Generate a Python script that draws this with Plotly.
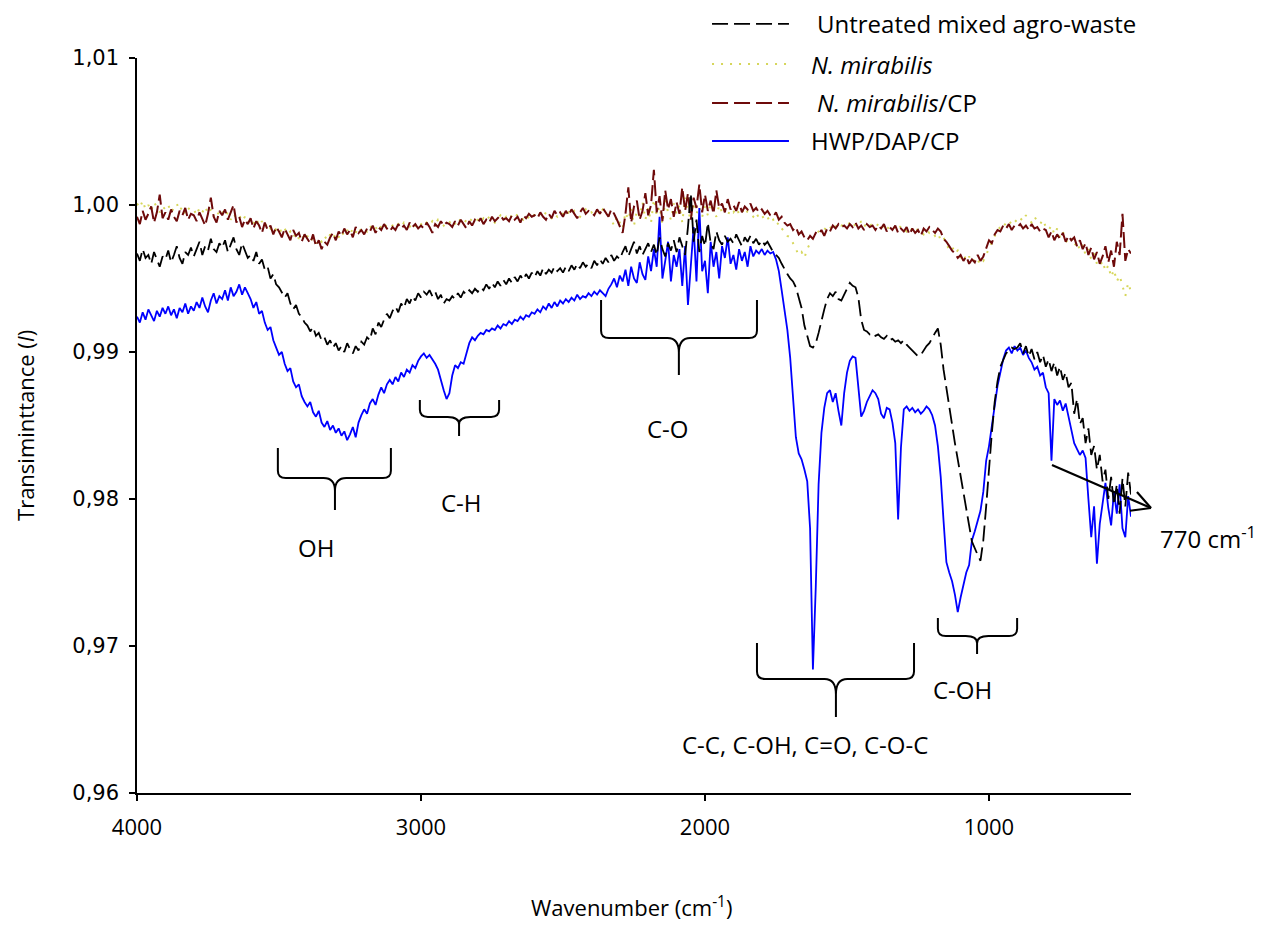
import numpy as np
import plotly.graph_objects as go

# Sampling grid of the FTIR spectra: 4000 -> 500 cm-1, 10 cm-1 steps
wavenumber = np.arange(4000, 499, -10)

# Transmittance x 10^4, one row per 100 cm-1 (4000..3910, 3900..3810, ...), last row = 500 cm-1
untreated = [
    9967, 9962, 9970, 9964, 9966, 9960, 9968, 9963, 9958, 9965,
    9963, 9969, 9961, 9966, 9972, 9964, 9960, 9968, 9966, 9971,
    9965, 9970, 9975, 9966, 9972, 9969, 9977, 9970, 9968, 9974,
    9971, 9976, 9968, 9973, 9978, 9970, 9966, 9974, 9969, 9964,
    9966, 9962, 9968, 9960, 9963, 9956, 9958, 9950, 9953, 9946,
    9944, 9940, 9937, 9940, 9933, 9929, 9932, 9926, 9924, 9920,
    9918, 9914, 9917, 9911, 9913, 9908, 9910, 9905, 9908, 9903,
    9906, 9901, 9904, 9900, 9906, 9902, 9899, 9904, 9901, 9907,
    9905, 9910, 9908, 9916, 9912, 9920, 9917, 9922, 9926, 9923,
    9928, 9931, 9927, 9933, 9930, 9936, 9933, 9938, 9935, 9940,
    9937, 9941, 9939, 9942, 9938, 9941, 9936, 9939, 9933, 9936,
    9935, 9938, 9936, 9940, 9937, 9941, 9939, 9942, 9940, 9943,
    9941, 9944, 9942, 9946, 9943, 9947, 9944, 9948, 9945, 9949,
    9946, 9950, 9947, 9951, 9948, 9952, 9949, 9953, 9950, 9954,
    9951, 9955, 9952, 9957, 9953, 9956, 9954, 9958, 9955, 9957,
    9954, 9958, 9955, 9959, 9956, 9960, 9957, 9961, 9958, 9960,
    9957, 9962, 9959, 9963, 9960, 9964, 9961, 9966, 9962, 9965,
    9963, 9968, 9972, 9965, 9970, 9975, 9967, 9972, 9966, 9970,
    9974, 9968, 9973, 9966, 9978, 9970, 9965, 9974, 9969, 9976,
    9968, 9978, 9972, 9966, 9985, 10008, 9975, 9990, 9968, 9979,
    9972, 9988, 9974, 9970, 9982, 9976, 9973, 9979, 9975, 9977,
    9974, 9980, 9976, 9972, 9978, 9975, 9979, 9974, 9977, 9973,
    9976, 9973, 9975, 9971, 9968, 9966, 9964, 9960, 9956, 9953,
    9950, 9948, 9944, 9937, 9930, 9918, 9910, 9904, 9903, 9906,
    9913, 9922, 9929, 9936, 9940, 9938, 9941, 9936, 9935, 9939,
    9943, 9947, 9945, 9944, 9937, 9922, 9915, 9914, 9912, 9913,
    9911, 9912, 9910, 9909, 9911, 9908, 9909, 9907, 9908, 9906,
    9908, 9905, 9903, 9901, 9899, 9897, 9898, 9901, 9904, 9906,
    9910, 9913, 9916, 9905, 9888, 9875, 9862, 9849, 9838, 9827,
    9815, 9805, 9792, 9782, 9771, 9766, 9762, 9758, 9772, 9795,
    9822, 9845, 9866, 9880, 9890, 9895, 9899, 9901, 9903, 9902,
    9903, 9906, 9899, 9904, 9897, 9902, 9895, 9900, 9893, 9898,
    9890, 9895, 9887, 9893, 9884, 9890, 9881, 9886, 9876, 9879,
    9858, 9868, 9851, 9855, 9838, 9848, 9830, 9836, 9820, 9830,
    9812, 9820, 9800, 9815, 9796, 9810, 9790, 9814, 9795, 9818,
    9803,
]

n_mirabilis = [
    10001, 9998, 10003, 9997, 10000, 9996, 10002, 9998, 9995, 9999,
    9997, 10000, 9995, 9998, 10001, 9996, 9999, 9994, 9998, 9996,
    9997, 9993, 9998, 9995, 9999, 9994, 9997, 9992, 9996, 9993,
    9996, 9992, 9995, 9990, 9994, 9991, 9993, 9989, 9992, 9988,
    9990, 9987, 9991, 9986, 9989, 9985, 9988, 9984, 9986, 9983,
    9985, 9981, 9984, 9980, 9982, 9978, 9981, 9977, 9980, 9976,
    9979, 9975, 9978, 9974, 9977, 9975, 9979, 9976, 9980, 9977,
    9981, 9978, 9982, 9979, 9983, 9980, 9984, 9981, 9985, 9982,
    9984, 9982, 9986, 9983, 9985, 9982, 9986, 9984, 9987, 9985,
    9986, 9984, 9987, 9985, 9988, 9986, 9985, 9988, 9986, 9989,
    9987, 9985, 9988, 9986, 9989, 9987, 9990, 9988, 9986, 9989,
    9988, 9990, 9987, 9991, 9989, 9987, 9990, 9988, 9991, 9989,
    9990, 9988, 9991, 9989, 9992, 9990, 9988, 9991, 9993, 9990,
    9992, 9990, 9993, 9991, 9994, 9992, 9990, 9993, 9991, 9994,
    9993, 9991, 9994, 9992, 9995, 9993, 9991, 9994, 9992, 9995,
    9994, 9992, 9995, 9993, 9996, 9994, 9992, 9995, 9997, 9994,
    9995, 9993, 9996, 9994, 9997, 9995, 9993, 9990, 9986, 9992,
    9988, 9984, 9995, 9990, 9998, 9986, 9996, 9992, 10002, 9990,
    9998, 9988, 10004, 9993, 9999, 9987, 10003, 9995, 9990, 10001,
    9994, 10000, 9988, 10005, 9996, 9990, 10002, 9994, 9999, 9992,
    9999, 9993, 10001, 9996, 9992, 10000, 9995, 9998, 9993, 9997,
    9995, 9998, 9994, 9997, 9993, 9996, 9994, 9992, 9995, 9991,
    9993, 9990, 9992, 9988, 9990, 9986, 9988, 9984, 9982, 9979,
    9978, 9974, 9971, 9966, 9968, 9964, 9970, 9974, 9978, 9980,
    9982, 9984, 9983, 9986, 9984, 9987, 9985, 9988, 9986, 9987,
    9986, 9988, 9985, 9987, 9986, 9989, 9985, 9988, 9986, 9987,
    9985, 9987, 9984, 9986, 9983, 9986, 9984, 9985, 9983, 9986,
    9984, 9982, 9985, 9983, 9981, 9984, 9982, 9980, 9983, 9981,
    9982, 9979, 9981, 9976, 9978, 9973, 9970, 9972, 9967, 9969,
    9964, 9967, 9962, 9965, 9961, 9963, 9960, 9964, 9962, 9966,
    9970, 9975, 9979, 9983, 9985, 9988, 9986, 9989, 9987, 9990,
    9988, 9991, 9989, 9993, 9990, 9988, 9992, 9989, 9987, 9990,
    9985, 9983, 9986, 9980, 9984, 9978, 9982, 9976, 9974, 9977,
    9972, 9975, 9969, 9973, 9966, 9970, 9963, 9967, 9960, 9958,
    9962, 9955, 9959, 9951, 9956, 9948, 9952, 9944, 9938, 9947,
    9941,
]

n_mirabilis_cp = [
    9992, 9987, 9996, 9990, 9994, 9999, 9988, 9995, 10007, 9991,
    9995, 9990, 9997, 9992, 9989, 9996, 9993, 9998, 9990, 9994,
    9993, 9989, 9995, 9991, 9986, 9994, 10005, 9992, 9988, 9996,
    9993, 9997, 9990, 9995, 10000, 9988, 9992, 9985, 9990, 9987,
    9991, 9984, 9989, 9986, 9981, 9988, 9983, 9986, 9980, 9985,
    9982, 9978, 9984, 9980, 9976, 9983, 9979, 9981, 9975, 9980,
    9977, 9974, 9980, 9972, 9976, 9970, 9975, 9973, 9978, 9981,
    9976, 9982, 9979, 9984, 9980, 9983, 9978, 9985, 9981, 9983,
    9980, 9984, 9982, 9986, 9981, 9985, 9983, 9987, 9984, 9982,
    9985, 9983, 9987, 9984, 9986, 9983, 9988, 9985, 9987, 9984,
    9986, 9984, 9988, 9985, 9981, 9987, 9985, 9989, 9986, 9988,
    9987, 9985, 9989, 9986, 9990, 9987, 9984, 9989, 9986, 9990,
    9988, 9991, 9987, 9990, 9988, 9992, 9989, 9991, 9993, 9990,
    9991, 9989, 9993, 9990, 9992, 9988, 9993, 9991, 9994, 9992,
    9993, 9991, 9995, 9992, 9990, 9994, 9991, 9996, 9993, 9995,
    9992, 9996, 9993, 9997, 9994, 9991, 9995, 9998, 9994, 9996,
    9995, 9993, 9997, 9994, 9998, 9995, 9992, 9997, 9994, 9990,
    9986, 9981, 9994, 10012, 9988, 9999, 10003, 9990, 9996, 10008,
    9993, 10000, 10024, 9995, 10006, 9989, 10010, 9997, 10004, 9992,
    10002, 9994, 10012, 9996, 10008, 9990, 10005, 9998, 10014, 9995,
    10007, 9996, 10003, 9994, 10010, 9998, 10001, 9995, 10004, 9997,
    10000, 9996, 10002, 9995, 9999, 9997, 10001, 9996, 9998, 9995,
    9997, 9994, 9996, 9993, 9992, 9995, 9990, 9992, 9988, 9986,
    9987, 9983, 9985, 9980, 9982, 9978, 9976, 9979, 9977, 9981,
    9980, 9983, 9979, 9984, 9982, 9986, 9984, 9987, 9985, 9986,
    9984, 9987, 9985, 9988, 9984, 9986, 9983, 9987, 9985, 9986,
    9983, 9986, 9984, 9987, 9982, 9985, 9983, 9986, 9981, 9984,
    9982, 9985, 9980, 9984, 9981, 9983, 9979, 9984, 9982, 9985,
    9983, 9981, 9984, 9982, 9977, 9975, 9972, 9969, 9967, 9964,
    9966, 9962, 9965, 9960, 9963, 9961, 9966, 9962, 9965, 9970,
    9976, 9974, 9980, 9983, 9982, 9986, 9984, 9987, 9983, 9986,
    9985, 9987, 9984, 9986, 9983, 9987, 9984, 9985, 9982, 9984,
    9983, 9978, 9982, 9976, 9980, 9977, 9981, 9975, 9979, 9976,
    9978, 9972, 9976, 9970, 9974, 9966, 9971, 9963, 9968, 9960,
    9965, 9972, 9961, 9969, 9958, 9975, 9966, 9994, 9962, 9970,
    9967,
]

hwp_dap_cp = [
    9924, 9920, 9927, 9922, 9929, 9925, 9921, 9928, 9924, 9930,
    9926, 9931, 9925, 9929, 9923, 9930, 9927, 9933, 9926, 9931,
    9928, 9934, 9930, 9937, 9931, 9927, 9935, 9940, 9933, 9938,
    9936, 9942, 9935, 9944, 9938, 9941, 9946, 9939, 9944, 9940,
    9936, 9930, 9934, 9926, 9928, 9920, 9915, 9917, 9908, 9903,
    9898, 9900, 9892, 9887, 9889, 9880, 9876, 9878, 9870, 9866,
    9863, 9866, 9859, 9856, 9860, 9852, 9849, 9853, 9847, 9850,
    9845, 9848, 9843, 9846, 9840, 9844, 9849, 9842, 9852, 9857,
    9861, 9858, 9865, 9868, 9864, 9871, 9876, 9872, 9878, 9881,
    9878, 9883, 9880, 9886, 9883, 9888, 9886, 9891, 9889, 9894,
    9897, 9899, 9896, 9898, 9895, 9892, 9888, 9880, 9874, 9868,
    9872, 9884, 9891, 9889, 9893, 9892, 9899, 9906, 9910, 9908,
    9911, 9913, 9912, 9915, 9914, 9916, 9915, 9918, 9916, 9919,
    9918, 9921, 9919, 9922, 9921, 9924, 9922, 9925, 9924, 9927,
    9926, 9929, 9927, 9931, 9929, 9933, 9930, 9934, 9931, 9935,
    9933, 9936, 9934, 9937, 9935, 9939, 9936, 9938, 9937, 9940,
    9938, 9941, 9939, 9942, 9940, 9938, 9943, 9946, 9950, 9944,
    9952, 9948, 9956, 9945, 9958, 9950, 9947, 9961, 9953, 9949,
    9965, 9955, 9970, 9958, 9992, 9950, 9962, 9975, 9948, 9966,
    9958, 9970, 9945, 9972, 9932, 9962, 9985, 9948, 9998, 9955,
    9962, 9940, 9975, 9958, 9968, 9950, 9972, 9964, 9978, 9960,
    9966, 9956, 9970, 9962, 9968, 9958, 9972, 9965, 9969, 9967,
    9970, 9966, 9969, 9967, 9968, 9963, 9955, 9942, 9928, 9915,
    9896, 9872, 9842, 9831, 9827, 9820, 9812, 9780, 9684, 9740,
    9810, 9845, 9862, 9872, 9874, 9866, 9872, 9860, 9850, 9872,
    9886, 9894, 9897, 9896, 9875, 9856, 9860, 9866, 9870, 9874,
    9872, 9868, 9858, 9855, 9862, 9861, 9852, 9838, 9786, 9835,
    9861, 9863, 9860, 9862, 9859, 9861, 9858, 9860, 9863, 9861,
    9857, 9850, 9836, 9815, 9785, 9757, 9750, 9744, 9735, 9723,
    9733, 9742, 9750, 9755, 9772, 9778, 9786, 9792, 9805, 9826,
    9836, 9849, 9865, 9877, 9886, 9895, 9901, 9903, 9899, 9904,
    9901, 9903, 9898, 9901, 9896, 9893, 9888, 9890, 9884, 9886,
    9876, 9872, 9826, 9868, 9864, 9867, 9860, 9865, 9856, 9846,
    9838, 9834, 9830, 9833, 9828, 9800, 9774, 9795, 9756, 9783,
    9798, 9811, 9794, 9782, 9805, 9790, 9810, 9780, 9774, 9802,
    9788,
]

x_tick_values = [4000, 3000, 2000, 1000]
x_tick_labels = ["4000", "3000", "2000", "1000"]
y_tick_values = [0.96, 0.97, 0.98, 0.99, 1.00, 1.01]
y_tick_labels = ["0,96", "0,97", "0,98", "0,99", "1,00", "1,01"]

series = [
    # name, values, colour, width, dash
    ("N. mirabilis", n_mirabilis, "#d6d65a", 2.0, "2px,7px"),
    ("N. mirabilis/CP", n_mirabilis_cp, "#6e0a0a", 2.0, "16px,5px"),
    ("HWP/DAP/CP", hwp_dap_cp, "#0000ff", 1.8, "solid"),
    ("Untreated mixed agro-waste", untreated, "#000000", 1.8, "16px,6px"),
]

fig = go.Figure()
for name, vals, colour, width, dash in series:
    assert len(vals) == len(wavenumber)
    fig.add_trace(go.Scatter(
        x=wavenumber, y=np.asarray(vals) / 1e4, mode="lines", name=name,
        line=dict(color=colour, width=width, dash=dash),
    ))

TEXT_FONT = "Open Sans, Liberation Sans, sans-serif"


def brace_path(x_left, x_right, x_mid, y_top, y_bar, y_tip):
    """Downward curly brace in data units (wavenumber axis is reversed)."""
    ex = 28      # horizontal extent of end curves, cm-1
    cx = 40      # horizontal extent of centre curves, cm-1
    ey = 0.0005  # vertical extent of end curves
    cy = (y_bar - y_tip) * 0.4
    return (
        f"M{x_left},{y_top} L{x_left},{y_bar + ey} "
        f"Q{x_left},{y_bar} {x_left - ex},{y_bar} "
        f"L{x_mid + cx},{y_bar} Q{x_mid},{y_bar} {x_mid},{y_bar - cy} "
        f"L{x_mid},{y_tip} M{x_mid},{y_bar - cy} "
        f"Q{x_mid},{y_bar} {x_mid - cx},{y_bar} "
        f"L{x_right + ex},{y_bar} Q{x_right},{y_bar} {x_right},{y_bar + ey} "
        f"L{x_right},{y_top}"
    )


# band assignments: brace geometry and label position
bands = [
    ("OH", (3504, 3106, 3303, 0.98347, 0.98143, 0.97925), (3370, 0.97667)),
    ("C-H", (3004, 2725, 2866, 0.98673, 0.98558, 0.98429), (2856, 0.97973)),
    ("C-O", (2366, 1817, 2092, 0.99354, 0.99095, 0.98844), (2130, 0.98483)),
    ("C-C, C-OH, C=O, C-O-C", (1817, 1264, 1539, 0.97020, 0.96776, 0.96517), (1648, 0.96327)),
    ("C-OH", (1180, 901, 1042, 0.97190, 0.97068, 0.96946), (1092, 0.96701)),
]
for label, geom, (lx, ly) in bands:
    fig.add_shape(type="path", path=brace_path(*geom), xref="x", yref="y",
                  line=dict(color="black", width=2))
    fig.add_annotation(x=lx, y=ly, xref="x", yref="y", text=label, showarrow=False,
                       xanchor="center", yanchor="middle",
                       font=dict(family=TEXT_FONT, size=24, color="black"))

# arrow pointing out to the 770 cm-1 band label (paper coordinates)
arrow = dict(xref="paper", yref="paper", line=dict(color="black", width=2.2))
fig.add_shape(type="line", x0=0.9205, y0=0.4463, x1=1.0201, y1=0.3878, **arrow)
fig.add_shape(type="line", x0=1.0201, y0=0.3878, x1=1.0060, y1=0.4095, **arrow)
fig.add_shape(type="line", x0=1.0201, y0=0.3878, x1=0.9990, y1=0.3840, **arrow)
fig.add_annotation(x=1.027, y=0.347, xref="paper", yref="paper", xanchor="left",
                   yanchor="middle", text="770 cm<sup>-1</sup>", showarrow=False,
                   font=dict(family=TEXT_FONT, size=24, color="black"))

# legend drawn as line samples plus labels
legend_rows = [
    ("#000000", 1.8, "16px,6px", "Untreated mixed agro-waste", 0.6821, 1.0463),
    ("#d6d65a", 2.0, "2px,7px", "<i>N. mirabilis</i>", 0.6761, 0.9918),
    ("#6e0a0a", 2.0, "16px,6px", "<i>N. mirabilis</i>/CP", 0.6821, 0.9388),
    ("#0000ff", 2.0, "solid", "HWP/DAP/CP", 0.6761, 0.8871),
]
for colour, width, dash, text, tx, ty in legend_rows:
    fig.add_shape(type="line", xref="paper", yref="paper", x0=0.5785, x1=0.6559,
                  y0=ty, y1=ty, line=dict(color=colour, width=width, dash=dash))
    fig.add_annotation(x=tx, y=ty, xref="paper", yref="paper", xanchor="left",
                       yanchor="middle", text=text, showarrow=False,
                       font=dict(family=TEXT_FONT, size=24, color="black"))

# axis titles
fig.add_annotation(x=0.4975, y=-0.1551, xref="paper", yref="paper",
                   xanchor="center", yanchor="middle",
                   text="Wavenumber (cm<sup>-1</sup>)", showarrow=False,
                   font=dict(family=TEXT_FONT, size=22, color="black"))
fig.add_annotation(x=-0.1127, y=0.5007, xref="paper", yref="paper", textangle=-90,
                   xanchor="center", yanchor="middle",
                   text="Transiminttance (<i>I</i>)", showarrow=False,
                   font=dict(family=TEXT_FONT, size=22, color="black"))

fig.update_layout(
    width=1270, height=927,
    margin=dict(l=137, r=139, t=58, b=134),
    paper_bgcolor="white", plot_bgcolor="white",
    showlegend=False,
    xaxis=dict(
        range=[4000, 500], tickvals=x_tick_values, ticktext=x_tick_labels,
        ticks="outside", ticklen=6, tickwidth=1.5, tickcolor="black",
        showline=True, linecolor="black", linewidth=1.5,
        showgrid=False, zeroline=False, ticklabelstandoff=8,
        tickfont=dict(family=TEXT_FONT, size=22, color="black"),
    ),
    yaxis=dict(
        range=[0.96, 1.01], tickvals=y_tick_values, ticktext=y_tick_labels,
        ticks="outside", ticklen=6, tickwidth=1.5, tickcolor="black",
        showline=True, linecolor="black", linewidth=1.5,
        showgrid=False, zeroline=False, ticklabelstandoff=6,
        tickfont=dict(family="DejaVu Sans, Verdana, sans-serif", size=21, color="black"),
    ),
)

fig.write_html("out.html")
